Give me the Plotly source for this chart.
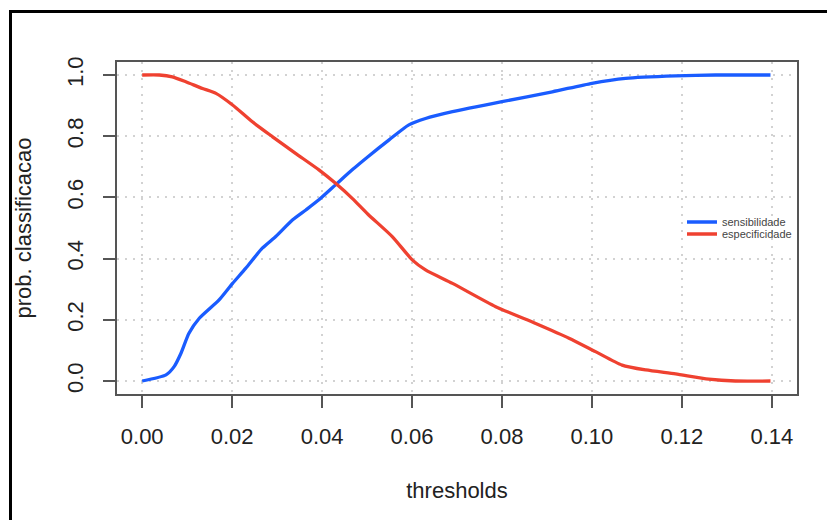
import plotly.graph_objects as go

# --- data ---
sens_t = [0.0, 0.0053, 0.0071, 0.0086, 0.0104, 0.0127, 0.0171, 0.0201, 0.023, 0.0267,
          0.0297, 0.0334, 0.0364, 0.0393, 0.043, 0.0467, 0.0502, 0.0549, 0.0593, 0.063,
          0.069, 0.080, 0.0912, 0.100, 0.1075, 0.1186, 0.1275, 0.1397]
sens_v = [0.0, 0.02, 0.047, 0.09, 0.156, 0.205, 0.265, 0.319, 0.368, 0.434,
          0.472, 0.526, 0.559, 0.592, 0.641, 0.69, 0.733, 0.788, 0.837, 0.858,
          0.88, 0.913, 0.945, 0.973, 0.989, 0.997, 1.0, 1.0]

spec_t = [0.0, 0.0038, 0.0067, 0.0097, 0.0134, 0.0164, 0.0201, 0.0245, 0.029, 0.0341,
          0.0393, 0.043, 0.0467, 0.0502, 0.0556, 0.0601, 0.063, 0.069, 0.0786, 0.0875,
          0.0949, 0.1008, 0.1067, 0.112, 0.1186, 0.126, 0.1319, 0.1397]
spec_v = [1.0, 1.0, 0.994, 0.978, 0.956, 0.94, 0.902, 0.847, 0.798, 0.744,
          0.69, 0.646, 0.597, 0.545, 0.472, 0.395, 0.363, 0.319, 0.243, 0.188,
          0.14, 0.096, 0.052, 0.036, 0.023, 0.006, 0.0, 0.0]

x_ticks = [0.0, 0.02, 0.04, 0.06, 0.08, 0.10, 0.12, 0.14]
x_labels = ["0.00", "0.02", "0.04", "0.06", "0.08", "0.10", "0.12", "0.14"]
y_ticks = [0.0, 0.2, 0.4, 0.6, 0.8, 1.0]
y_labels = ["0.0", "0.2", "0.4", "0.6", "0.8", "1.0"]

series_names = ["sensibilidade", "especificidade"]
BLUE = "#1a5cff"
RED = "#ef4130"
FONT = "Liberation Sans, Arial, Helvetica, sans-serif"

W, H = 835, 520
# the page body adds an 8px offset; margins compensate for it
L, R, T, B = 109, 46, 54, 134
pw, ph = W - L - R, H - T - B

fig = go.Figure()
fig.add_trace(go.Scatter(x=sens_t, y=sens_v, mode="lines", name=series_names[0],
                         legend="legend",
                         line=dict(color=BLUE, width=3.3, shape="spline", smoothing=0.6)))
fig.add_trace(go.Scatter(x=spec_t, y=spec_v, mode="lines", name=series_names[1],
                         legend="legend2",
                         line=dict(color=RED, width=3.3, shape="spline", smoothing=0.6)))

span = x_ticks[-1] - x_ticks[0]
xr = [x_ticks[0] - 0.04 * span, x_ticks[-1] + 0.04 * span]
yr = [-0.0425, 1.0425]

axis_common = dict(
    showline=True, mirror=True, linecolor="#555555", linewidth=2,
    ticks="outside", ticklen=12, tickwidth=2, tickcolor="#555555",
    showgrid=True, gridcolor="#d2d2d2", griddash="2px,6px", gridwidth=1.5,
    zeroline=False,
    tickfont=dict(family=FONT, size=22, color="#222222"),
)

fig.update_xaxes(range=xr, tickmode="array", tickvals=x_ticks, ticktext=x_labels,
                 ticklabelstandoff=10,
                 title=dict(text="thresholds", font=dict(family=FONT, size=22, color="#222222"),
                            standoff=34),
                 **axis_common)
fig.update_yaxes(range=yr, tickmode="array", tickvals=y_ticks, ticktext=y_labels,
                 tickangle=-90, ticklabelstandoff=11,
                 title=dict(text="prob. classificacao", font=dict(family=FONT, size=22, color="#222222"),
                            standoff=26),
                 **axis_common)

# outer black frame of the screenshot
fig.add_shape(type="rect", xref="paper", yref="paper",
              x0=(2.5 - L) / pw, x1=(860 - L) / pw,
              y0=(H - B - 560) / ph, y1=(H - B - 3.5) / ph,
              line=dict(color="black", width=3), fillcolor="rgba(0,0,0,0)", layer="above")

leg_common = dict(x=(674 - L) / pw, xanchor="left", yanchor="middle",
                  bgcolor="rgba(0,0,0,0)", borderwidth=0,
                  font=dict(family=FONT, size=11, color="#444444"))

fig.update_layout(
    width=W, height=H,
    margin=dict(l=L, r=R, t=T, b=B, autoexpand=False),
    paper_bgcolor="white", plot_bgcolor="white",
    showlegend=True,
    legend=dict(y=(H - B - 214) / ph, **leg_common),
    legend2=dict(y=(H - B - 226) / ph, **leg_common),
    font=dict(family=FONT),
)

fig.write_html("out.html")
